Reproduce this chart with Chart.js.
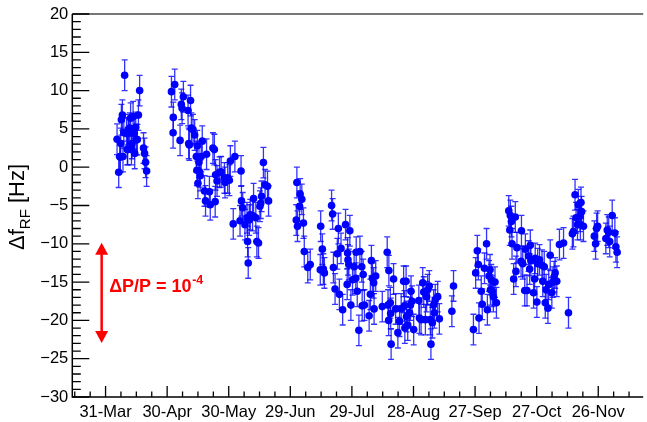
<!DOCTYPE html>
<html><head><meta charset="utf-8">
<script src="https://cdn.jsdelivr.net/npm/chart.js@4.4.1/dist/chart.umd.min.js"></script>
<style>html,body{margin:0;padding:0;background:#fff;}canvas{display:block;}</style>
</head><body>
<canvas id="c" width="647" height="422" style="width:647px;height:422px"></canvas>
<script>
// Days counted from 31-Mar, frequency offsets in Hz
const run1Days = [5.6,6.4,6.9,7.2,7.4,7.7,8.2,8.5,8.9,9.3,10.2,10.6,10.8,11.0,11.3,11.8,12.2,12.6,12.9,13.4,14.0,14.2,14.7,15.0,15.5,16.0,16.6,18.5,19.0,19.5,20.0];
const run1Hz   = [3.65,-0.65,1.4,1.3,3.1,6.2,6.8,1.4,4.5,12.0,4.4,2.3,2.3,4.9,4.4,5.1,6.4,2.3,3.1,6.6,4.4,1.8,5.2,3.6,3.6,6.8,10.0,2.5,1.8,0.65,-0.5];
const run2Days = [32.1,32.9,33.0,33.7,36.3,36.9,37.3,37.9,40.2,40.5,40.8,41.4,41.8,42.6,43.4,44.2,44.5,44.7,45.0,45.5,45.8,46.1,46.6,47.1,48.2,48.7,49.2,50.6,51.0,52.3,53.0,53.4,53.6,54.3,55.5,56.3,57.9,58.2,59.5,60.3,60.8,62.2,63.0,65.5,66.0,66.2,66.8,67.9,68.9,69.2,69.5,70.0,70.5,71.6,72.1,73.2,73.7,74.5,75.2,75.6,76.0,76.9,77.7,78.9,79.4];
const run2Hz   = [9.86,4.5,6.5,10.8,3.5,8.2,7.7,9.2,7.4,3.1,2.9,8.7,5.1,4.9,4.2,1.4,-0.4,2.8,-2.1,0.65,-0.6,-1.1,1.4,3.4,-3.1,-4.4,1.7,-3.2,-4.9,2.5,2.3,-4.5,-1.0,-1.8,-0.65,-0.6,-1.4,-2.0,-1.4,-1.7,0.8,-7.4,1.4,-7.0,-0.5,-4.4,-5.3,-7.5,-6.6,-9.7,-12.5,-6.9,-6.2,-6.3,-4.1,-6.6,-9.7,-9.9,-5.1,-4.7,-3.8,0.6,-2.3,-2.5,-4.4];
const run3Days = [92.9,93.2,93.5,94.5,94.8,95.6,96.4,96.8,98.5,99.7,104.6,104.8,105.6,106.1,106.6,110.1,110.6,111.0,111.8,112.9,113.4,113.9,114.7,115.5,116.9,117.7,117.9,118.1,118.5,119.0,119.5,120.3,121.1,121.9,122.1,122.6,123.4,123.9,124.8,125.0,125.5,126.1,128.4,129.0,129.5,130.0,130.6,130.8,131.6];
const run3Hz   = [-6.9,-2.0,-7.7,-5.1,-3.5,-4.2,-7.3,-11.0,-13.1,-12.7,-13.4,-7.7,-10.7,-13.3,-13.8,-5.0,-6.1,-13.1,-15.9,-11.3,-8.0,-16.6,-10.6,-18.6,-7.5,-15.3,-11.2,-12.1,-12.7,-8.3,-18.0,-14.7,-13.0,-14.5,-11.1,-16.2,-21.3,-11.0,-13.0,-18.1,-14.0,-18.0,-19.4,-16.6,-12.2,-14.5,-15.1,-18.5,-14.2];
const run4Days = [134.8,137.2,137.6,137.9,138.0,138.7,138.9,139.1,140.3,141.3,142.4,143.2,144.0,145.2,145.6,145.8,146.4,146.6,147.2,148.1,148.5,148.8,149.3,150.1,152.6,152.9,153.7,154.5,155.0,155.8,156.4,156.9,157.7,158.2,158.5,159.2,159.8,160.2,160.6,161.8,162.6,168.7,169.5];
const run4Hz   = [-18.2,-11.1,-18.0,-20.0,-13.5,-17.7,-19.1,-23.1,-14.6,-18.5,-21.6,-20.1,-18.5,-14.9,-18.1,-21.0,-14.9,-19.5,-20.6,-19.0,-18.0,-16.2,-17.5,-21.2,-17.4,-19.7,-19.9,-15.1,-16.3,-19.9,-16.9,-16.0,-15.5,-19.9,-23.1,-20.3,-18.0,-19.0,-17.3,-16.9,-19.8,-18.8,-15.5];
const run5Days = [179.2,180.3,181.1,181.6,181.9,183.0,183.5,184.6,185.6,186.0,186.8,187.3,187.5,187.9,188.4,188.9,189.7,190.4,196.4,196.9,197.2,197.7,198.0,198.8,199.6,199.9,200.4,202.4,202.6,203.2,204.2,204.5,205.3,206.1,206.6,206.9,207.2,208.5,209.0,209.3,210.1,210.5,211.4,212.6,213.0,213.7,214.2,214.6,215.5,215.9,216.6,217.4,217.9,218.5,219.0,219.8,221.1,223.1,225.5];
const run5Hz   = [-21.2,-13.8,-10.9,-12.7,-19.7,-16.2,-17.9,-13.2,-10.0,-18.6,-14.2,-13.4,-16.0,-14.7,-16.2,-16.9,-15.0,-17.7,-5.7,-8.2,-6.3,-7.1,-10.0,-14.6,-6.5,-13.6,-10.5,-12.3,-8.3,-12.6,-16.1,-10.7,-16.1,-11.6,-13.3,-10.2,-12.2,-16.4,-14.6,-11.9,-17.6,-12.6,-12.1,-12.8,-14.9,-13.0,-17.7,-16.0,-18.4,-15.3,-11.5,-16.4,-15.0,-14.3,-13.8,-14.9,-10.1,-9.9,-19.0];
const run6Days = [227.4,227.9,228.7,229.2,229.9,230.3,231.1,231.3,231.6,231.9,232.8,238.1,238.7,239.2,239.7,243.7,244.4,245.1,245.6,246.8,248.1,248.6,249.2];
const run6Hz   = [-8.7,-8.4,-3.6,-6.6,-7.5,-4.9,-6.4,-7.5,-4.6,-5.8,-7.7,-9.0,-10.0,-8.0,-7.7,-9.3,-8.2,-8.5,-9.7,-6.3,-8.6,-10.4,-11.1];
const errorHz = 2.0;

const tickDays   = [0,30,60,90,120,150,180,210,240];
const tickLabels = ['31-Mar','30-Apr','30-May','29-Jun','29-Jul','28-Aug','27-Sep','27-Oct','26-Nov'];
const minorStepDays = 7.5;
const xRange = [-16.2, 261.9];
const yRange = [-30, 20];
const arrowDay = -1.9, arrowHz = [-9.85, -22.95];
const noteDay = 1.75, noteHz = -16.35;

const days = [].concat(run1Days, run2Days, run3Days, run4Days, run5Days, run6Days);
const hz   = [].concat(run1Hz, run2Hz, run3Hz, run4Hz, run5Hz, run6Hz);
const points = days.map((d, i) => ({x: d, y: hz[i]}));

const FONT = '"Liberation Sans", Arial, Helvetica, sans-serif';

const errorBars = {
  id: 'errorBars',
  beforeDatasetsDraw(chart) {
    const {ctx, scales: {x, y}} = chart;
    ctx.save();
    ctx.strokeStyle = 'rgba(0,0,255,0.8)';
    ctx.lineWidth = 1.3;
    points.forEach(p => {
      const px = x.getPixelForValue(p.x);
      const yt = y.getPixelForValue(p.y + errorHz);
      const yb = y.getPixelForValue(p.y - errorHz);
      ctx.beginPath();
      ctx.moveTo(px, yt); ctx.lineTo(px, yb);
      ctx.moveTo(px - 3, yt); ctx.lineTo(px + 3, yt);
      ctx.moveTo(px - 3, yb); ctx.lineTo(px + 3, yb);
      ctx.stroke();
    });
    ctx.restore();
  }
};

const frame = {
  id: 'frame',
  afterDatasetsDraw(chart) {
    const {ctx, chartArea: a, scales: {x, y}} = chart;
    ctx.save();
    // top frame line (grey)
    ctx.strokeStyle = '#777'; ctx.lineWidth = 2;
    ctx.beginPath(); ctx.moveTo(a.left, a.top); ctx.lineTo(a.right, a.top); ctx.stroke();
    ctx.strokeStyle = '#000'; ctx.lineWidth = 1.5;
    ctx.beginPath();
    ctx.moveTo(a.left, a.top); ctx.lineTo(a.left, a.bottom); ctx.lineTo(a.right, a.bottom);
    ctx.stroke();
    ctx.lineWidth = 1.3;
    ctx.beginPath();
    for (let v = yRange[0]; v <= yRange[1]; v += 1) {
      const py = y.getPixelForValue(v);
      const len = (v % 5 === 0) ? 17 : 8.5;
      ctx.moveTo(a.left, py); ctx.lineTo(a.left + len, py);
    }
    for (let v = tickDays[0] - 2 * minorStepDays; v <= xRange[1]; v += minorStepDays) {
      const px = x.getPixelForValue(v);
      const major = tickDays.includes(v);
      ctx.moveTo(px, a.bottom); ctx.lineTo(px, a.bottom - (major ? 11 : 5.5));
    }
    ctx.stroke();
    ctx.restore();
  },
  afterDraw(chart) {
    const {ctx, scales: {x, y}} = chart;
    ctx.save();
    // y-axis title
    ctx.translate(24, 250); ctx.rotate(-Math.PI / 2);
    ctx.fillStyle = '#000'; ctx.textAlign = 'left'; ctx.textBaseline = 'alphabetic';
    let xx = 0;
    ctx.font = '22px ' + FONT; ctx.fillText('\u0394f', xx, 0); xx += ctx.measureText('\u0394f').width;
    ctx.font = '15px ' + FONT; ctx.fillText('RF', xx, 6); xx += ctx.measureText('RF').width;
    ctx.font = '22px ' + FONT; ctx.fillText(' [Hz]', xx, 0);
    ctx.restore();

    // red double arrow annotation
    ctx.save();
    const ax = x.getPixelForValue(arrowDay);
    const yTop = y.getPixelForValue(arrowHz[0]);
    const yBot = y.getPixelForValue(arrowHz[1]);
    ctx.strokeStyle = '#ff0000'; ctx.fillStyle = '#ff0000'; ctx.lineWidth = 2.5;
    ctx.beginPath(); ctx.moveTo(ax, yTop + 10); ctx.lineTo(ax, yBot - 10); ctx.stroke();
    ctx.beginPath(); ctx.moveTo(ax, yTop); ctx.lineTo(ax - 6.5, yTop + 12); ctx.lineTo(ax + 6.5, yTop + 12); ctx.closePath(); ctx.fill();
    ctx.beginPath(); ctx.moveTo(ax, yBot); ctx.lineTo(ax - 6.5, yBot - 12); ctx.lineTo(ax + 6.5, yBot - 12); ctx.closePath(); ctx.fill();
    const tx = x.getPixelForValue(noteDay), ty = y.getPixelForValue(noteHz);
    ctx.textAlign = 'left'; ctx.textBaseline = 'alphabetic';
    ctx.font = 'bold 18px ' + FONT;
    const main = '\u0394P/P = 10';
    ctx.fillText(main, tx, ty);
    const w = ctx.measureText(main).width;
    ctx.font = 'bold 12.5px ' + FONT;
    ctx.fillText('-4', tx + w + 0.5, ty - 8);
    ctx.restore();
  }
};

new Chart(document.getElementById('c'), {
  type: 'scatter',
  data: { datasets: [{
    data: points,
    pointRadius: 3.8,
    pointHoverRadius: 3.8,
    backgroundColor: '#0000ff',
    borderWidth: 0,
    pointBorderWidth: 0
  }]},
  options: {
    responsive: false,
    animation: false,
    events: [],
    layout: { padding: { top: 14, right: 0, left: 0, bottom: 0 } },
    plugins: { legend: { display: false }, tooltip: { enabled: false } },
    scales: {
      x: {
        type: 'linear', min: xRange[0], max: xRange[1],
        grid: { display: false, drawTicks: false },
        border: { display: false },
        afterBuildTicks: s => { s.ticks = tickDays.map(v => ({ value: v })); },
        afterFit: s => { s.height = 25; },
        ticks: {
          autoSkip: false, maxRotation: 0, minRotation: 0, padding: 6,
          color: '#000', font: { family: FONT, size: 16.5 },
          callback: (v, i) => tickLabels[i]
        }
      },
      y: {
        min: yRange[0], max: yRange[1],
        grid: { display: false, drawTicks: false },
        border: { display: false },
        afterFit: s => { s.width = 72.3; },
        ticks: {
          stepSize: 5, padding: 4, color: '#000',
          font: { family: FONT, size: 16.5 },
          callback: v => String(v).replace('-', '\u2212')
        }
      }
    }
  },
  plugins: [errorBars, frame]
});
</script>
</body></html>
